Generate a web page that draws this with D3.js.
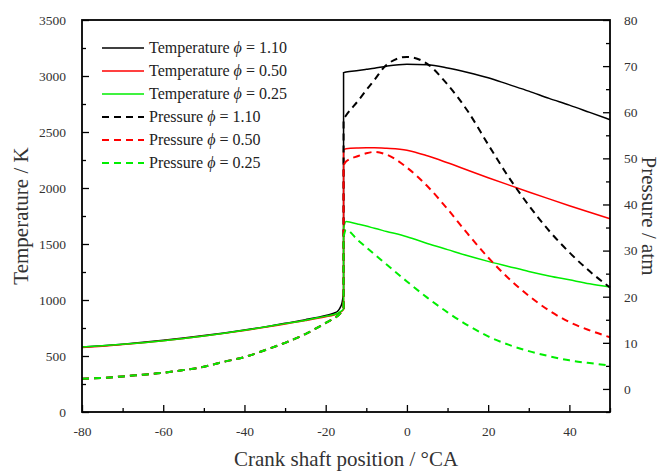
<!DOCTYPE html>
<html>
<head>
<meta charset="utf-8">
<script src="https://cdn.jsdelivr.net/npm/d3@7"></script>
<style>
  body { margin: 0; background: #fff; }
  text { font-family: "Liberation Serif", "DejaVu Serif", serif; }
</style>
</head>
<body>
<div id="chart"></div>
<script>
// Crank angles before and after ignition (jump point repeated)
const preAngle = [-80, -75, -70, -65, -60, -55, -50, -45, -40, -35, -30, -25, -20, -18, -17, -16.5, -16, -15.6];
const postAngle = [-15.6, -15, -12, -10, -8, -5, 0, 5, 10, 15, 20, 25, 30, 35, 40, 45, 50];

// Temperature (K)
const tempPre110 = [580, 592, 606, 622, 640, 660, 682, 706, 732, 760, 792, 824, 862, 882, 902, 928, 972, 1060];
const tempPost110 = [3030, 3035, 3050, 3060, 3070, 3088, 3105, 3100, 3072, 3032, 2985, 2925, 2865, 2800, 2740, 2675, 2610];
const tempPre050 = [576, 588, 602, 618, 636, 656, 678, 702, 728, 756, 786, 816, 850, 866, 878, 888, 900, 915];
const tempPost050 = [2340, 2350, 2358, 2360, 2360, 2355, 2338, 2288, 2225, 2158, 2092, 2028, 1965, 1903, 1842, 1783, 1725];
const tempPre025 = [580, 591, 604, 619, 637, 657, 679, 703, 730, 758, 789, 820, 856, 870, 883, 893, 905, 920];
const tempPost025 = [1640, 1700, 1677, 1660, 1640, 1612, 1565, 1505, 1450, 1395, 1345, 1300, 1255, 1215, 1180, 1145, 1115];

// Pressure (atm); compression part is the same for all three
const pressPre = [2.2, 2.4, 2.7, 3.1, 3.5, 4.1, 4.8, 5.9, 6.9, 8.4, 10.0, 11.9, 14.3, 15.3, 15.9, 16.3, 16.8, 17.5];
const pressPost110 = [58.5, 59.3, 62.5, 64.8, 67, 70.3, 72, 70.5, 66, 60.2, 53, 46, 39.8, 34.3, 29.6, 25.5, 22.0];
const pressPost050 = [48.5, 49.3, 50.5, 51.1, 51.4, 50.8, 48, 44, 39, 33.6, 28.5, 24, 20.2, 17, 14.5, 12.7, 11.2];
const pressPost025 = [33, 34.5, 32.2, 30.7, 29.2, 27, 23.3, 19.8, 16.6, 13.8, 11.4, 9.6, 8.2, 7.1, 6.2, 5.6, 5.1];

const phiLabels = ["1.10", "0.50", "0.25"];
const colors = ["#000000", "#ff0000", "#00ee00"];

const width = 662;
const height = 472;
const margin = { top: 20, right: 52, bottom: 60, left: 82 };

const svg = d3.select("#chart")
    .append("svg")
    .attr("width", width)
    .attr("height", height);

const xScale = d3.scaleLinear()
    .domain([-80, 50])
    .range([margin.left, width - margin.right]);

const yLeft = d3.scaleLinear()
    .domain([0, 3500])
    .range([height - margin.bottom, margin.top]);

const yRight = d3.scaleLinear()
    .domain([-5, 80])
    .range([height - margin.bottom, margin.top]);

const angles = preAngle.concat(postAngle);
const tempSeries = [
    tempPre110.concat(tempPost110),
    tempPre050.concat(tempPost050),
    tempPre025.concat(tempPost025)
];
const pressSeries = [
    pressPre.concat(pressPost110),
    pressPre.concat(pressPost050),
    pressPre.concat(pressPost025)
];

const lineT = d3.line()
    .x(d => xScale(d[0]))
    .y(d => yLeft(d[1]))
    .curve(d3.curveMonotoneX);

const lineP = d3.line()
    .x(d => xScale(d[0]))
    .y(d => yRight(d[1]))
    .curve(d3.curveMonotoneX);

const n = preAngle.length;
const plot = svg.append("g");

// draw pre / post smoothly, the ignition jump as a straight segment
tempSeries.forEach((vals, i) => {
    const pts = angles.map((a, k) => [a, vals[k]]);
    plot.append("path")
        .attr("d", lineT(pts.slice(0, n)) + "L" + lineT(pts.slice(n)).slice(1))
        .attr("fill", "none")
        .attr("stroke", colors[i])
        .attr("stroke-width", 1.5);
});

pressSeries.forEach((vals, i) => {
    const pts = angles.map((a, k) => [a, vals[k]]);
    plot.append("path")
        .attr("d", lineP(pts.slice(0, n)) + "L" + lineP(pts.slice(n)).slice(1))
        .attr("fill", "none")
        .attr("stroke", colors[i])
        .attr("stroke-width", 2)
        .attr("stroke-dasharray", "7,5");
});

// Axes
const axisColor = "#000";
const labelColor = "#333";
const fmt = d => String(d);

function styleAxis(g) {
    g.select(".domain").remove();
    g.selectAll(".tick line").attr("stroke", axisColor).attr("stroke-width", 1.3);
    g.selectAll(".tick text")
        .style("font-size", "13.5px")
        .attr("fill", labelColor);
}

// minor ticks
svg.append("g")
    .attr("transform", `translate(0, ${height - margin.bottom})`)
    .call(d3.axisBottom(xScale).tickValues(d3.range(-70, 51, 20)).tickSize(-4).tickFormat(""))
    .call(styleAxis);
svg.append("g")
    .attr("transform", `translate(${margin.left}, 0)`)
    .call(d3.axisLeft(yLeft).tickValues(d3.range(250, 3500, 500)).tickSize(-4).tickFormat(""))
    .call(styleAxis);
svg.append("g")
    .attr("transform", `translate(${width - margin.right}, 0)`)
    .call(d3.axisRight(yRight).tickValues(d3.range(-5, 80, 10)).tickSize(-4).tickFormat(""))
    .call(styleAxis);

// major ticks
svg.append("g")
    .attr("transform", `translate(0, ${height - margin.bottom})`)
    .call(d3.axisBottom(xScale).tickValues(d3.range(-80, 41, 20)).tickSize(-7).tickPadding(14).tickFormat(fmt))
    .call(styleAxis);
svg.append("g")
    .attr("transform", `translate(${margin.left}, 0)`)
    .call(d3.axisLeft(yLeft).tickValues(d3.range(0, 3501, 500)).tickSize(-7).tickPadding(16).tickFormat(fmt))
    .call(styleAxis);
svg.append("g")
    .attr("transform", `translate(${width - margin.right}, 0)`)
    .call(d3.axisRight(yRight).tickValues(d3.range(0, 81, 10)).tickSize(-7).tickPadding(14).tickFormat(fmt))
    .call(styleAxis);

// frame
svg.append("rect")
    .attr("x", margin.left)
    .attr("y", margin.top)
    .attr("width", width - margin.left - margin.right)
    .attr("height", height - margin.top - margin.bottom)
    .attr("fill", "none")
    .attr("stroke", axisColor)
    .attr("stroke-width", 1.8);

// Axis titles
svg.append("text")
    .attr("text-anchor", "middle")
    .attr("transform", `translate(${(margin.left + width - margin.right) / 2}, ${height - 6})`)
    .style("font-size", "21px")
    .attr("fill", labelColor)
    .text("Crank shaft position / °CA");

svg.append("text")
    .attr("text-anchor", "middle")
    .attr("transform", `translate(28, ${(margin.top + height - margin.bottom) / 2}) rotate(-90)`)
    .style("font-size", "21px")
    .attr("fill", labelColor)
    .text("Temperature / K");

svg.append("text")
    .attr("text-anchor", "middle")
    .attr("transform", `translate(642, ${(margin.top + height - margin.bottom) / 2}) rotate(90)`)
    .style("font-size", "21px")
    .attr("fill", labelColor)
    .text("Pressure / atm");

// Legend
const legendNames = ["Temperature", "Temperature", "Temperature", "Pressure", "Pressure", "Pressure"];
const legend = svg.append("g").attr("transform", "translate(102, 48)");
legendNames.forEach((name, i) => {
    const row = legend.append("g").attr("transform", `translate(0, ${i * 23})`);
    row.append("line")
        .attr("x1", 0).attr("x2", 42)
        .attr("y1", 0).attr("y2", 0)
        .attr("stroke", colors[i % 3])
        .attr("stroke-width", i < 3 ? 1.5 : 2)
        .attr("stroke-dasharray", i < 3 ? null : "7,5");
    const t = row.append("text")
        .attr("x", 47)
        .attr("y", 5)
        .style("font-size", "16px")
        .attr("fill", "#222");
    t.append("tspan").text(name + " ");
    t.append("tspan").style("font-style", "italic").text("ϕ");
    t.append("tspan").text(" = " + phiLabels[i % 3]);
});
</script>
</body>
</html>
